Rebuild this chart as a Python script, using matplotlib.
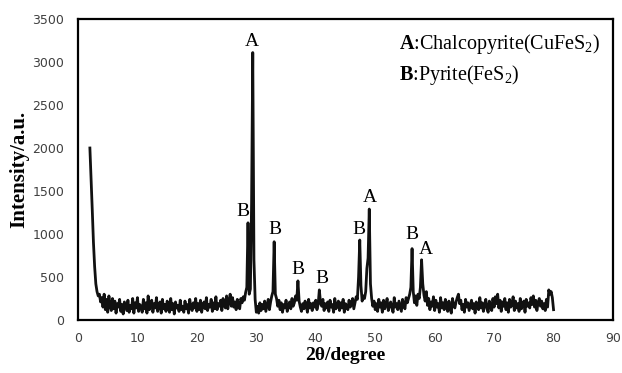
import numpy as np
import matplotlib
matplotlib.use('Agg')
import matplotlib.pyplot as plt

plt.rcParams['mathtext.fontset'] = 'custom'
plt.rcParams['mathtext.rm'] = 'Liberation Serif'
plt.rcParams['mathtext.bf'] = 'Liberation Serif:bold'

# 2theta grid, 0.2 degree steps from 2 to 80
two_theta = np.round(np.arange(2.0, 80.01, 0.2), 1)

# intensity, one row per 2 degrees
intensity = [
    2000, 1650, 1280, 900, 620, 420, 330, 280, 300, 210,   # 2
    260, 150, 300, 120, 240, 90, 280, 170, 110, 250,        # 4
    130, 220, 80, 190, 150, 240, 100, 180, 70, 210,         # 6
    160, 110, 230, 90, 170, 130, 250, 80, 200, 140,         # 8
    260, 100, 180, 150, 90, 240, 130, 200, 80, 280,         # 10
    120, 170, 230, 90, 190, 140, 260, 100, 160, 210,        # 12
    80, 240, 130, 180, 100, 220, 150, 90, 250, 120,         # 14
    190, 70, 210, 140, 170, 100, 230, 120, 160, 90,         # 16
    220, 130, 180, 80, 240, 150, 110, 200, 140, 250,        # 18
    100, 190, 120, 230, 90, 170, 210, 130, 260, 110,        # 20
    180, 150, 240, 100, 200, 130, 270, 120, 190, 160,       # 22
    230, 110, 250, 170, 140, 280, 130, 220, 300, 160,       # 24
    260, 150, 210, 120, 240, 180, 130, 250, 200, 270,       # 26
    230, 320, 380, 1130, 300, 360, 1350, 3110, 700, 240,    # 28
    90, 160, 80, 200, 110, 180, 130, 220, 100, 170,         # 30
    240, 120, 210, 280, 330, 910, 300, 250, 160, 230,       # 32
    120, 200, 90, 180, 140, 230, 100, 170, 210, 130,        # 34
    250, 160, 200, 280, 230, 455, 220, 150, 100, 190,       # 36
    130, 220, 160, 90, 240, 140, 190, 110, 200, 150,        # 38
    230, 120, 180, 350, 200, 160, 240, 110, 190, 140,       # 40
    210, 100, 230, 150, 180, 90, 250, 130, 170, 220,        # 42
    110, 200, 140, 240, 90, 190, 160, 120, 230, 150,        # 44
    180, 250, 130, 200, 270, 240, 500, 930, 400, 220,       # 46
    280, 250, 330, 600, 720, 1290, 420, 250, 160, 220,      # 48
    120, 190, 100, 240, 150, 200, 90, 230, 130, 180,        # 50
    250, 110, 170, 210, 140, 90, 260, 150, 190, 120,        # 52
    220, 160, 100, 240, 180, 130, 260, 200, 250, 300,       # 54
    380, 830, 330, 200, 280, 170, 300, 250, 380, 700,       # 56
    420, 290, 220, 330, 170, 250, 120, 210, 160, 270,       # 58
    110, 230, 150, 190, 90, 260, 140, 200, 120, 240,        # 60
    160, 100, 220, 130, 80, 250, 170, 140, 210, 260,        # 62
    300, 190, 230, 120, 180, 90, 240, 150, 200, 110,        # 64
    170, 230, 130, 190, 80, 210, 150, 120, 260, 140,        # 66
    200, 100, 180, 240, 130, 90, 220, 160, 110, 250,        # 68
    150, 270, 190, 300, 140, 230, 100, 210, 160, 250,       # 70
    120, 200, 90, 240, 150, 180, 270, 110, 220, 140,        # 72
    190, 100, 250, 130, 170, 220, 90, 240, 160, 200,        # 74
    140, 260, 180, 280, 150, 230, 110, 200, 250, 160,       # 76
    220, 130, 190, 110, 240, 150, 350, 300, 330, 260,       # 78
    120,                                                    # 80
]

# peak markers: label, 2theta, height of the letter
peak_labels = ['B', 'A', 'B', 'B', 'B', 'B', 'A', 'B', 'A']
peak_x = [27.7, 29.3, 33.2, 37.0, 41.0, 47.3, 49.1, 56.2, 58.5]
peak_y = [1256, 3244, 1058, 593, 477, 1055, 1419, 1000, 814]

fig = plt.figure(figsize=(6.22, 3.73), dpi=100)
ax = fig.add_axes([0.1254, 0.1421, 0.8601, 0.8069])

ax.plot(two_theta, intensity, color='#111111', linewidth=2.0)

for lab, px, py in zip(peak_labels, peak_x, peak_y):
    ax.text(px, py, lab, ha='center', va='center', fontsize=14,
            family='Liberation Serif')

ax.text(0.60, 0.918, r'$\mathbf{A}$:Chalcopyrite(CuFeS$_2$)', transform=ax.transAxes,
        fontsize=14.5, family='Liberation Serif', va='center')
ax.text(0.60, 0.815, r'$\mathbf{B}$:Pyrite(FeS$_2$)', transform=ax.transAxes,
        fontsize=14.5, family='Liberation Serif', va='center')

ax.set_xlim(0, 90)
ax.set_ylim(0, 3500)
ax.set_xticks(range(0, 91, 10))
ax.set_yticks(range(0, 3501, 500))
ax.tick_params(length=0, labelsize=9, labelcolor='#404040')
ax.tick_params(axis='y', pad=10)
ax.tick_params(axis='x', pad=9)
for sp in ax.spines.values():
    sp.set_linewidth(1.6)

ax.set_xlabel('2θ/degree', fontsize=14, fontweight='bold', family='Liberation Serif',
              labelpad=1)
ax.set_ylabel('Intensity/a.u.', fontsize=15, fontweight='bold', family='Liberation Serif',
              labelpad=2)

fig.savefig('out.png', dpi=100)
